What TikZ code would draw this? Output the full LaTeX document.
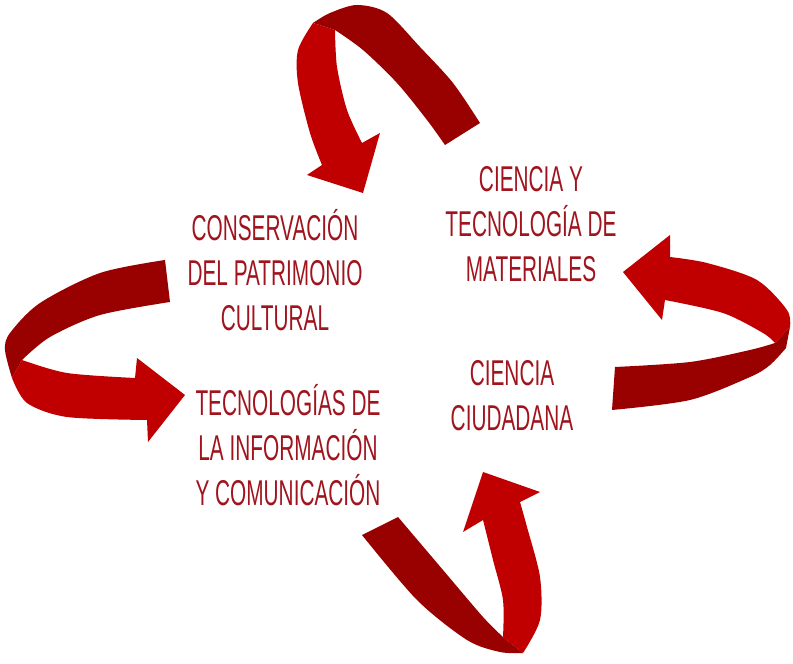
\documentclass[tikz,border=0pt]{standalone}
\usepackage{fontspec}
\newfontfamily\labelfont[FakeStretch=0.58]{Liberation Sans}
\definecolor{txtred}{HTML}{A0141E}
\definecolor{ribbonfront}{HTML}{C00000}
\definecolor{ribbonback}{HTML}{990000}
\tikzset{
  topic/.style={align=center,font=\labelfont\fontsize{36}{45}\selectfont,text=txtred,inner sep=0pt},
  front/.style={fill=ribbonfront},
  back/.style={fill=ribbonback},
}
\begin{document}
\begin{tikzpicture}[line join=bevel,]
\useasboundingbox (0bp,0bp) rectangle (793bp,664bp);
%%
\node (cons_patrimonio) at (275bp,394bp) [topic] {CONSERVACIÓN\\DEL PATRIMONIO\\CULTURAL};
  \node (cien_materiales) at (531bp,440bp) [topic] {CIENCIA Y\\TECNOLOGÍA DE\\MATERIALES};
  \node (cien_ciudadana) at (512bp,268bp) [topic] {CIENCIA\\CIUDADANA};
  \node (tec_info) at (288bp,219bp) [topic] {TECNOLOGÍAS DE\\LA INFORMACIÓN\\Y COMUNICACIÓN};
%% top ribbon
  \fill [back] plot [smooth] coordinates {(480bp,541bp) (453bp,581bp) (420bp,617bp) (387bp,651bp) (357bp,659bp) (330bp,651bp) (313bp,641bp)}
    -- plot [smooth] coordinates {(335bp,634bp) (363bp,614bp) (397bp,581bp) (427bp,544bp) (445bp,519bp)} -- cycle;
  \fill [front] plot [smooth] coordinates {(313bp,641bp) (298bp,614bp) (298bp,581bp) (310bp,531bp) (322bp,499bp)}
    -- (307bp,489bp) -- (363bp,471bp) -- (380bp,531bp) -- (362bp,521bp)
    -- plot [smooth] coordinates {(362bp,521bp) (347bp,554bp) (337bp,597bp) (335bp,634bp)} -- cycle;
%% left ribbon
  \fill [back] plot [smooth] coordinates {(165bp,404bp) (100bp,391bp) (40bp,361bp) (10bp,331bp) (5bp,314bp) (12bp,286bp)}
    -- plot [smooth] coordinates {(22bp,304bp) (50bp,327bp) (100bp,349bp) (170bp,362bp)} -- cycle;
  \fill [front] plot [smooth] coordinates {(12bp,286bp) (27bp,261bp) (67bp,247bp) (147bp,244bp)}
    -- (148bp,222bp) -- (185bp,269bp) -- (137bp,306bp) -- (135bp,286bp)
    -- plot [smooth] coordinates {(135bp,286bp) (67bp,291bp) (22bp,304bp)} -- cycle;
%% right ribbon
  \fill [back] plot [smooth] coordinates {(615bp,297bp) (690bp,302bp) (750bp,314bp) (775bp,321bp)}
    -- (790bp,337bp)
    -- plot [smooth] coordinates {(786bp,316bp) (770bp,299bp) (750bp,287bp) (690bp,264bp) (612bp,254bp)} -- cycle;
  \fill [front] plot [smooth] coordinates {(775bp,321bp) (763bp,331bp) (723bp,351bp) (665bp,364bp)}
    -- (662bp,344bp) -- (623bp,392bp) -- (670bp,429bp) -- (670bp,407bp)
    -- plot [smooth] coordinates {(670bp,407bp) (707bp,401bp) (757bp,384bp) (787bp,354bp) (790bp,337bp)} -- cycle;
%% bottom ribbon
  \fill [back] plot [smooth] coordinates {(362bp,129bp) (417bp,64bp) (467bp,24bp) (500bp,12bp) (523bp,11bp)}
    -- plot [smooth] coordinates {(503bp,27bp) (483bp,47bp) (443bp,94bp) (398bp,147bp)} -- cycle;
  \fill [front] plot [smooth] coordinates {(523bp,11bp) (540bp,44bp) (540bp,87bp) (527bp,137bp) (520bp,162bp)}
    -- (540bp,172bp) -- (483bp,192bp) -- (463bp,132bp) -- (483bp,144bp)
    -- plot [smooth] coordinates {(483bp,144bp) (493bp,104bp) (503bp,64bp) (503bp,27bp)} -- cycle;
%
\end{tikzpicture}
\end{document}
